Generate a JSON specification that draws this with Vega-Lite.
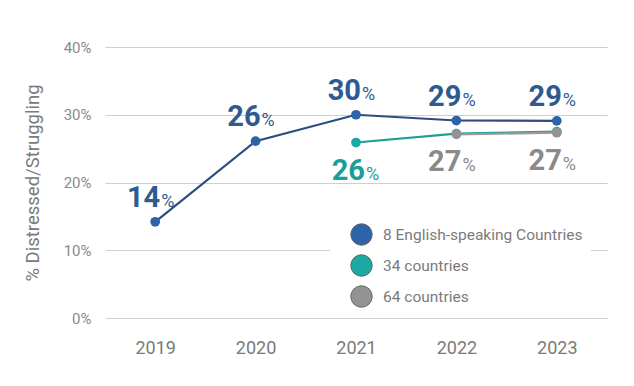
{
  "$schema": "https://vega.github.io/schema/vega-lite/v6.json",
  "width": 502,
  "height": 271,
  "autosize": "none",
  "padding": {"left": 105, "top": 47, "right": 27, "bottom": 68},
  "background": "white",
  "config": {"view": {"stroke": null}, "font": "Roboto"},
  "data": {"values": [
    {"year": "2019", "series": "8 English-speaking Countries", "value": 14.2},
    {"year": "2020", "series": "8 English-speaking Countries", "value": 26.1},
    {"year": "2021", "series": "8 English-speaking Countries", "value": 30.0},
    {"year": "2022", "series": "8 English-speaking Countries", "value": 29.15},
    {"year": "2023", "series": "8 English-speaking Countries", "value": 29.1},
    {"year": "2021", "series": "34 countries", "value": 25.9},
    {"year": "2022", "series": "34 countries", "value": 27.2},
    {"year": "2023", "series": "34 countries", "value": 27.5},
    {"year": "2022", "series": "64 countries", "value": 27.1},
    {"year": "2023", "series": "64 countries", "value": 27.35}
  ]},
  "encoding": {
    "x": {"field": "year", "type": "ordinal", "scale": {"type": "point", "paddingOuter": 0.45},
      "axis": {"title": null, "labelAngle": 0, "domain": false, "ticks": false, "labelPadding": 21, "labelFontSize": 18, "labelColor": "#7a7a7a", "labelFont": "Roboto", "grid": false}},
    "y": {"field": "value", "type": "quantitative", "scale": {"domain": [0, 40], "nice": false},
      "axis": {"title": "% Distressed/Struggling", "titleFontSize": 18.5, "titleFontWeight": "normal", "titleColor": "#7a7a7a", "titleFont": "Roboto", "titlePadding": 21,
        "values": [0, 10, 20, 30, 40], "labelExpr": "datum.value + '%'", "labelFontSize": 15, "labelColor": "#8a8a8a", "labelFont": "Roboto", "labelPadding": 14,
        "domain": false, "ticks": false, "grid": true, "gridColor": "#cfcfcf", "gridWidth": 1}}
  },
  "layer": [
    {"mark": {"type": "line", "strokeWidth": 2.2},
     "encoding": {"color": {"field": "series", "type": "nominal", "legend": null,
       "scale": {"domain": ["64 countries", "34 countries", "8 English-speaking Countries"], "range": ["#9a9a9a", "#1d9e98", "#2a4e80"]}}}},
    {"mark": {"type": "point", "filled": true, "size": 95, "opacity": 1, "stroke": null},
     "encoding": {"color": {"field": "series", "type": "nominal",
       "scale": {"domain": ["8 English-speaking Countries", "34 countries", "64 countries"], "range": ["#2f63a8", "#1aa9a3", "#939393"]},
       "sort": ["8 English-speaking Countries", "34 countries", "64 countries"],
       "legend": {"title": null, "orient": "none", "legendX": 225, "legendY": 168, "padding": 8, "fillColor": "white",
         "symbolType": "circle", "symbolSize": 460, "symbolOffset": 12, "symbolStrokeWidth": 1, "symbolStrokeColor": "#666", "symbolOpacity": 1,
         "labelFont": "Roboto", "labelFontSize": 15.5, "labelColor": "#7b7b7b", "labelOffset": 10, "rowPadding": 4, "labelLimit": 300}},
       "order": {"field": "series"}}},
    {"transform": [{"filter": "datum.series == '8 English-speaking Countries'"}],
     "mark": {"type": "text", "align": "right", "baseline": "alphabetic", "dx": 5, "dy": -15, "fontSize": 29, "fontWeight": "bold", "font": "Roboto", "color": "#2e5a92"},
     "encoding": {"text": {"field": "value", "type": "quantitative", "format": ".0f"}}},
    {"transform": [{"filter": "datum.series == '8 English-speaking Countries'"}],
     "mark": {"type": "text", "align": "left", "baseline": "alphabetic", "dx": 6, "dy": -15, "fontSize": 18, "font": "Roboto", "color": "#2e5a92", "text": "%"},
     "encoding": {}},
    {"transform": [{"filter": "datum.series == '34 countries' && datum.year == '2021'"}],
     "mark": {"type": "text", "align": "right", "baseline": "alphabetic", "dx": 9, "dy": 37, "fontSize": 29, "fontWeight": "bold", "font": "Roboto", "color": "#1a9e98"},
     "encoding": {"text": {"field": "value", "type": "quantitative", "format": ".0f"}}},
    {"transform": [{"filter": "datum.series == '34 countries' && datum.year == '2021'"}],
     "mark": {"type": "text", "align": "left", "baseline": "alphabetic", "dx": 10, "dy": 37, "fontSize": 18, "font": "Roboto", "color": "#1a9e98", "text": "%"},
     "encoding": {}},
    {"transform": [{"filter": "datum.series == '64 countries'"}],
     "mark": {"type": "text", "align": "right", "baseline": "alphabetic", "dx": 5, "dy": 37, "fontSize": 29, "fontWeight": "bold", "font": "Roboto", "color": "#8a8a8a"},
     "encoding": {"text": {"field": "value", "type": "quantitative", "format": ".0f"}}},
    {"transform": [{"filter": "datum.series == '64 countries'"}],
     "mark": {"type": "text", "align": "left", "baseline": "alphabetic", "dx": 6, "dy": 37, "fontSize": 18, "font": "Roboto", "color": "#8a8a8a", "text": "%"},
     "encoding": {}}
  ],
  "resolve": {"scale": {"color": "independent"}}
}
